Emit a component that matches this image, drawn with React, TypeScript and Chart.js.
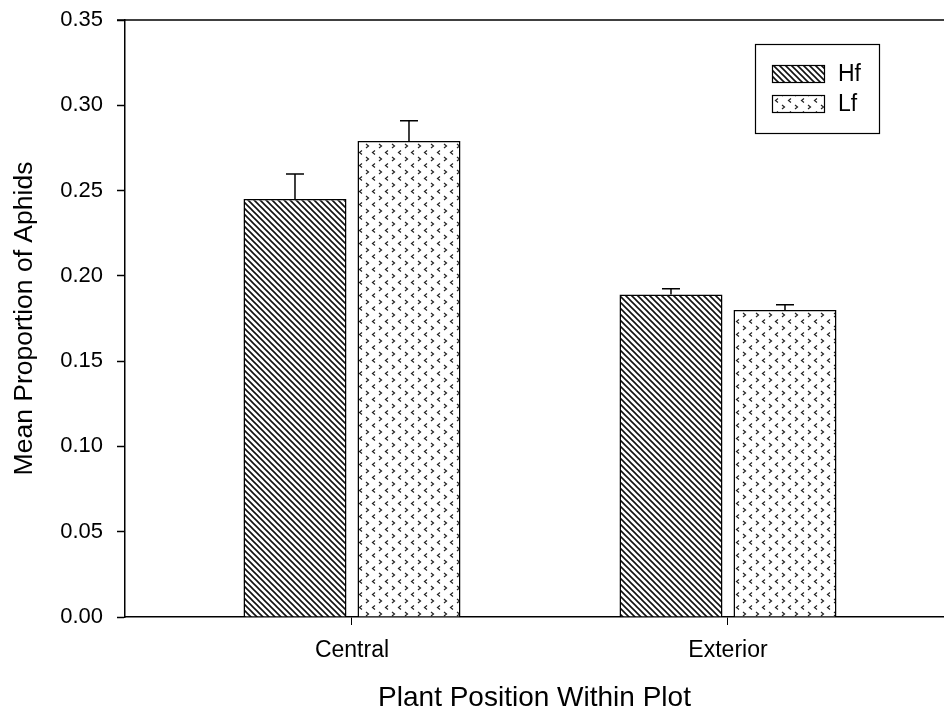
import React, { useEffect, useRef } from 'react';
import { Chart, registerables } from 'chart.js';

Chart.register(...registerables);

// Plant positions on the x axis
const categories = ['Central', 'Exterior'];
// Treatment series
const seriesNames = ['Hf', 'Lf'];
const hfMeans = [0.245, 0.189];
const hfErrors = [0.0147, 0.0035];
const lfMeans = [0.279, 0.18];
const lfErrors = [0.012, 0.003];
// Y axis tick values
const yTicks = [0, 0.05, 0.1, 0.15, 0.2, 0.25, 0.3, 0.35];

const FONT = '"Liberation Sans", Arial, Helvetica, sans-serif';

function hatchPattern(ctx: CanvasRenderingContext2D): CanvasPattern {
  const s = 6;
  const c = document.createElement('canvas');
  c.width = s;
  c.height = s;
  const g = c.getContext('2d')!;
  g.fillStyle = '#fff';
  g.fillRect(0, 0, s, s);
  g.strokeStyle = '#111';
  g.lineWidth = 1.6;
  g.beginPath();
  g.moveTo(-1, -1);
  g.lineTo(s + 1, s + 1);
  g.moveTo(-1, s - 1);
  g.lineTo(1, s + 1);
  g.moveTo(s - 1, -1);
  g.lineTo(s + 1, 1);
  g.stroke();
  return ctx.createPattern(c, 'repeat')!;
}

function chevronPattern(ctx: CanvasRenderingContext2D): CanvasPattern {
  const w = 13;
  const h = 13;
  const c = document.createElement('canvas');
  c.width = w;
  c.height = h;
  const g = c.getContext('2d')!;
  g.fillStyle = '#fff';
  g.fillRect(0, 0, w, h);
  g.strokeStyle = '#222';
  g.lineWidth = 1.2;
  g.beginPath();
  // '>' mark
  g.moveTo(2, 1);
  g.lineTo(4.5, 3);
  g.lineTo(2, 5);
  // '<' mark
  g.moveTo(11, 7.5);
  g.lineTo(8.5, 9.5);
  g.lineTo(11, 11.5);
  g.stroke();
  return ctx.createPattern(c, 'repeat')!;
}

const errorBarPlugin = {
  id: 'errorBars',
  afterDatasetsDraw(chart: any) {
    const ctx: CanvasRenderingContext2D = chart.ctx;
    const yScale = chart.scales.y;
    chart.data.datasets.forEach((ds: any, i: number) => {
      const meta = chart.getDatasetMeta(i);
      meta.data.forEach((bar: any, j: number) => {
        const v = ds.data[j].y;
        const top = yScale.getPixelForValue(v + ds.errors[j]);
        ctx.save();
        ctx.strokeStyle = '#000';
        ctx.lineWidth = 1.5;
        ctx.beginPath();
        ctx.moveTo(bar.x, bar.y);
        ctx.lineTo(bar.x, top);
        ctx.moveTo(bar.x - 9, top);
        ctx.lineTo(bar.x + 9, top);
        ctx.stroke();
        ctx.restore();
      });
    });
  },
};

const frameAndLegendPlugin = {
  id: 'frameAndLegend',
  afterDraw(chart: any) {
    const ctx: CanvasRenderingContext2D = chart.ctx;
    const { left, right, top } = chart.chartArea;
    ctx.save();
    // top frame line
    ctx.strokeStyle = '#000';
    ctx.lineWidth = 1.5;
    ctx.beginPath();
    ctx.moveTo(left - 8, top);
    ctx.lineTo(right, top);
    ctx.stroke();

    // legend box
    const bx = right - 189;
    const by = top + 24;
    ctx.lineWidth = 1.2;
    ctx.strokeRect(bx + 0.5, by + 0.5, 124, 89);
    const fills = [hatchPattern(ctx), chevronPattern(ctx)];
    seriesNames.forEach((name, i) => {
      const sy = by + 21 + i * 30;
      ctx.fillStyle = fills[i];
      ctx.fillRect(bx + 17, sy, 53, 18);
      ctx.lineWidth = 1.2;
      ctx.strokeStyle = '#000';
      ctx.strokeRect(bx + 17.5, sy + 0.5, 52, 17);
      ctx.fillStyle = '#000';
      ctx.font = `23px ${FONT}`;
      ctx.textBaseline = 'middle';
      ctx.textAlign = 'left';
      ctx.fillText(name, bx + 83, sy + 10);
    });
    ctx.restore();
  },
};

export default function App() {
  const ref = useRef<HTMLCanvasElement>(null);

  useEffect(() => {
    const canvas = ref.current!;
    const ctx = canvas.getContext('2d')!;
    const fills = [hatchPattern(ctx), chevronPattern(ctx)];
    const means = [hfMeans, lfMeans];
    const errors = [hfErrors, lfErrors];

    const chart = new Chart(canvas, {
      type: 'bar',
      data: {
        datasets: seriesNames.map((name, i) => ({
          label: name,
          data: categories.map((_, j) => ({ x: j + 1, y: means[i][j] })),
          errors: errors[i],
          backgroundColor: fills[i],
          borderColor: '#000',
          borderWidth: 1.5,
          categoryPercentage: 0.6064,
          barPercentage: 0.9035,
        })) as any,
      },
      options: {
        responsive: false,
        animation: false,
        layout: { autoPadding: false, padding: { top: 20, left: 0, right: 0, bottom: 0 } },
        plugins: {
          legend: { display: false },
          tooltip: { enabled: false },
        },
        scales: {
          x: {
            type: 'linear',
            offset: false,
            min: 0.3963,
            max: 2.5745,
            afterBuildTicks: (s: any) => {
              s.ticks = categories.map((_, i) => ({ value: i + 1 }));
            },
            afterFit: (s: any) => {
              s.height = 98;
              s.paddingLeft = 0;
              s.paddingRight = 0;
            },
            ticks: {
              autoSkip: false,
              maxRotation: 0,
              padding: 12,
              color: '#000',
              font: { family: FONT, size: 23 },
              callback: (v: any) => categories[Math.round(Number(v)) - 1] ?? '',
            },
            grid: {
              offset: false,
              drawOnChartArea: false,
              drawTicks: true,
              tickLength: 8,
              tickColor: '#000',
              tickWidth: 1,
            },
            border: { display: true, color: '#000', width: 1.5 },
            title: {
              display: true,
              text: 'Plant Position Within Plot',
              color: '#000',
              font: { family: FONT, size: 28 },
              padding: { top: 0, bottom: 0 },
            },
          },
          y: {
            type: 'linear',
            min: 0,
            max: 0.35,
            afterBuildTicks: (s: any) => {
              s.ticks = yTicks.map((v) => ({ value: v }));
            },
            afterFit: (s: any) => {
              s.width = 125;
              s.paddingTop = 0;
              s.paddingBottom = 0;
            },
            ticks: {
              padding: 14,
              color: '#000',
              font: { family: FONT, size: 22 },
              callback: (v: any) => Number(v).toFixed(2),
            },
            grid: {
              drawOnChartArea: false,
              drawTicks: true,
              tickLength: 8,
              tickColor: '#000',
              tickWidth: 1.5,
            },
            border: { display: true, color: '#000', width: 1.5 },
            title: {
              display: true,
              text: 'Mean Proportion of Aphids',
              color: '#000',
              font: { family: FONT, size: 26.5 },
              padding: { top: 9, bottom: 0 },
            },
          },
        },
      },
      plugins: [errorBarPlugin, frameAndLegendPlugin],
    });

    return () => chart.destroy();
  }, []);

  return (
    <div
      style={{
        position: 'fixed',
        left: 0,
        top: 0,
        width: 944,
        height: 715,
        background: '#fff',
        overflow: 'hidden',
      }}
    >
      <canvas ref={ref} width={944} height={715} />
    </div>
  );
}
